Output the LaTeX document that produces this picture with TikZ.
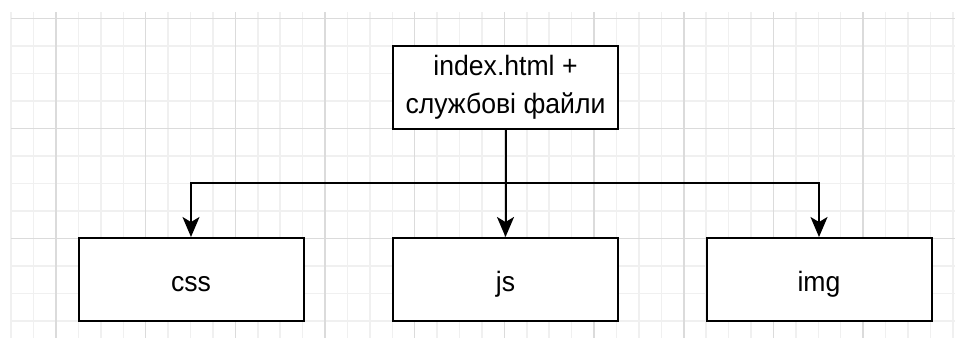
\documentclass[tikz,border=0pt]{standalone}
\usepackage{fontspec}
\usepackage{tikz}
\usetikzlibrary{arrows.meta}
\newfontfamily\boxfont[FakeStretch=0.95]{Liberation Sans}

\begin{document}
\begin{tikzpicture}[x=1pt, y=-1pt,
		box/.style={draw, line width=2pt, fill=white, minimum width=225pt, minimum height=83pt, inner sep=0pt, font=\boxfont\fontsize{28}{38}\selectfont},
		leaf/.style={box, text height=23pt, text depth=0pt},
		link/.style={line width=2pt, -{Stealth[length=20pt, width=17pt, inset=5pt]}},
		minor/.style={black!6, line width=1.5pt},
		major/.style={black!14, line width=1.5pt}]
		\useasboundingbox (0,0) rectangle (955,338);
		\foreach \k in {-2,...,40}
			\draw[minor] ({56+22.42*\k},12) -- ({56+22.42*\k},338);
		\foreach \k in {0,...,11}
			\draw[minor] (11,{18.3+27.5*\k}) -- (955,{18.3+27.5*\k});
		\foreach \k in {0,4,...,36}
			\draw[major] ({56+22.42*\k},12) -- ({56+22.42*\k},338);
		\foreach \k in {0,4,8}
			\draw[major] (11,{18.3+27.5*\k}) -- (955,{18.3+27.5*\k});
		
		\node[box, align=center] (top) at (505.5,87.5) {index.html +\\службові файли};
		\node[leaf] (css) at (191,279.5) {css};
		\node[leaf] (js) at (505.5,279.5) {js};
		\node[leaf] (img) at (819,279.5) {img};
		\coordinate (fork) at (505.5,183);
		\draw[link] (top.south) -- (js.north);
		\draw[link] (fork) -| (css.north);
		\draw[link] (fork) -| (img.north);
	\end{tikzpicture}
\end{document}
